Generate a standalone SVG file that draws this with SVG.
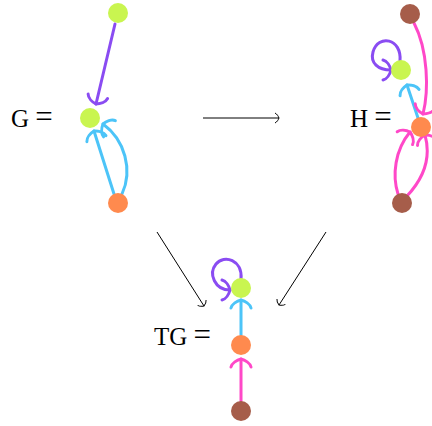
<svg xmlns="http://www.w3.org/2000/svg" width="432" height="426" viewBox="0 0 432 426">
<style>
.e{fill:none;stroke-width:3;stroke-linecap:round}
.pu{stroke:#8a4cf2}.bl{stroke:#4cc4f8}.pk{stroke:#ff48c8}
.ar{fill:none;stroke:#000;stroke-width:1}
.t{font-family:"Liberation Serif",serif;font-size:25px;fill:#000}
.q{font-size:31px}
.g{fill:#c9f550}.o{fill:#ff8a4e}.b{fill:#a65d4a}
</style>
<defs>
<marker id="mpu" markerUnits="userSpaceOnUse" orient="auto" overflow="visible" markerWidth="1" markerHeight="1"><path d="M-8,-10 C-4,-9 -1,-4 0,0 C-1,4 -4,9 -8,10" fill="none" stroke="#8a4cf2" stroke-width="3" stroke-linecap="round"/></marker>
<marker id="mbl" markerUnits="userSpaceOnUse" orient="auto" overflow="visible" markerWidth="1" markerHeight="1"><path d="M-8,-10 C-4,-9 -1,-4 0,0 C-1,4 -4,9 -8,10" fill="none" stroke="#4cc4f8" stroke-width="3" stroke-linecap="round"/></marker>
<marker id="mpk" markerUnits="userSpaceOnUse" orient="auto" overflow="visible" markerWidth="1" markerHeight="1"><path d="M-8,-10 C-4,-9 -1,-4 0,0 C-1,4 -4,9 -8,10" fill="none" stroke="#ff48c8" stroke-width="3" stroke-linecap="round"/></marker>
<marker id="mk" markerUnits="userSpaceOnUse" orient="auto" overflow="visible" markerWidth="1" markerHeight="1"><path d="M-4,-5 C-2,-4 -0.5,-1.5 0,0 C-0.5,1.5 -2,4 -4,5" fill="none" stroke="#000" stroke-width="1"/></marker>
</defs>
<g id="connectors">
<path class="e pu" d="M115,24 L96,104" marker-end="url(#mpu)"/>
<path class="e bl" d="M114,194 L94,131" marker-end="url(#mbl)"/>
<path class="e bl" d="M122,194 C133,170 125,140 103,124" marker-end="url(#mbl)"/>
<path class="e pu" d="M400,61 C402,38 378,34 373,52 C370,63 378,70 391,70" marker-end="url(#mpu)"/>
<path class="e bl" d="M418,118 L407,85" marker-end="url(#mbl)"/>
<path class="e pk" d="M414,23 C428,50 429,90 423,114" marker-end="url(#mpk)"/>
<path class="e pk" d="M398,194 C392,175 395,150 410,132" marker-end="url(#mpk)"/>
<path class="e pk" d="M407,196 C422,180 432,160 425,135" marker-end="url(#mpk)"/>
<path class="e pu" d="M241,279 C243,260 224,254 216,264 C208,274 215,290 230,290" marker-end="url(#mpu)"/>
<path class="e bl" d="M241,335 L241,300" marker-end="url(#mbl)"/>
<path class="e pk" d="M241,401 L241,359" marker-end="url(#mpk)"/>
<path class="ar" d="M203,118 L279,118" marker-end="url(#mk)"/>
<path class="ar" d="M157,232 L204,306" marker-end="url(#mk)"/>
<path class="ar" d="M326,232 L279,305" marker-end="url(#mk)"/>
</g>
<g id="G">
<text class="t" x="11" y="127">G <tspan class="q">=</tspan></text>
<circle id="G1" class="g" cx="118" cy="13" r="10"/>
<circle id="G2" class="g" cx="90" cy="118" r="10"/>
<circle id="G3" class="o" cx="118" cy="203" r="10"/>
</g>
<g id="H">
<text class="t" x="350" y="127">H <tspan class="q">=</tspan></text>
<circle id="H1" class="b" cx="410" cy="14" r="10"/>
<circle id="H2" class="g" cx="401" cy="70" r="10"/>
<circle id="H3" class="o" cx="421" cy="127" r="10"/>
<circle id="H4" class="b" cx="402" cy="203" r="10"/>
</g>
<g id="TG">
<text class="t" x="154" y="345">TG <tspan class="q">=</tspan></text>
<circle id="TG1" class="g" cx="241" cy="288" r="10"/>
<circle id="TG2" class="o" cx="241" cy="345" r="10"/>
<circle id="TG3" class="b" cx="241" cy="411" r="10"/>
</g>
</svg>
